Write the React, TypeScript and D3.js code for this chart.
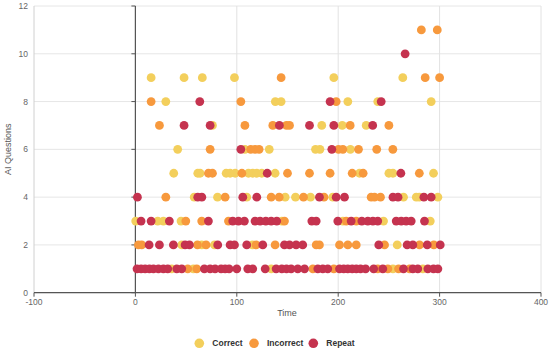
import React from "react";
import * as d3 from "d3";

const seriesNames = ["Correct", "Incorrect", "Repeat"];
const seriesColors = ["#F3CF5C", "#F7993D", "#C5334F"];

const xTicks = [-100, 0, 100, 200, 300, 400];
const yTicks = [0, 2, 4, 6, 8, 10, 12];

const correctData: [number, number][] = [
  [15.5, 9], [48, 9], [66, 9], [97.7, 9], [195.7, 9], [263.7, 9],
  [30, 8], [138, 8], [143.7, 8], [209.5, 8], [239, 8], [291.7, 8],
  [76, 7], [183.8, 7], [204, 7], [227.6, 7],
  [41.7, 6], [108, 6], [132, 6], [177.6, 6], [182, 6], [212, 6],
  [37.8, 5], [61.5, 5], [63.8, 5], [89.5, 5], [93.4, 5], [98.4, 5], [111.5, 5], [115.7, 5], [119.7, 5], [124.6, 5], [137.8, 5], [221, 5], [250, 5], [254, 5], [294, 5],
  [58, 4], [81, 4], [109.8, 4], [147.7, 4], [157.9, 4], [172.7, 4], [194.7, 4], [264.4, 4], [277, 4], [280, 4], [298.3, 4],
  [0.3, 3], [22, 3], [27.6, 3], [45, 3], [144.4, 3], [204.6, 3], [244.7, 3], [290.8, 3],
  [45.7, 2], [65.4, 2], [78, 2], [115.4, 2], [258.2, 2],
  [35.8, 1], [57.2, 1], [133.9, 1], [254, 1], [283.5, 1],
];

const incorrectData: [number, number][] = [
  [282, 11], [297.7, 11],
  [143.7, 9], [285.8, 9], [300, 9],
  [15.5, 8], [104, 8], [198, 8],
  [23.7, 7], [108, 7], [135.5, 7], [149, 7], [152, 7], [211.8, 7], [250, 7],
  [73.7, 6], [113.7, 6], [118, 6], [122, 6], [200.3, 6], [204.6, 6], [220, 6], [238, 6], [253.9, 6],
  [72, 5], [76, 5], [105, 5], [150, 5], [171.7, 5], [192, 5], [213.8, 5], [224.6, 5], [280, 5],
  [30, 4], [88.5, 4], [133.9, 4], [141.8, 4], [165.8, 4], [186, 4], [232.5, 4], [235.8, 4], [241.7, 4],
  [49.7, 3], [65.4, 3], [91.8, 3], [147, 3], [207.9, 3], [217.8, 3],
  [3, 2], [6.2, 2], [61.2, 2], [69.7, 2], [119, 2], [137.8, 2], [178.3, 2], [181.5, 2], [201.3, 2], [209.5, 2], [217.8, 2], [245.7, 2], [280.2, 2], [294.3, 2],
  [51.6, 1], [60.5, 1], [175, 1], [195.7, 1], [239, 1], [249, 1], [259.5, 1], [270.4, 1],
];

const repeatData: [number, number][] = [
  [266, 10],
  [63.5, 8], [192, 8], [242.4, 8],
  [48, 7], [73.7, 7], [142, 7], [171.7, 7], [195.7, 7], [234, 7],
  [104, 6], [193.7, 6],
  [130, 5], [261.8, 5],
  [2, 4], [61.5, 4], [65.5, 4], [105.9, 4], [119.7, 4], [181.5, 4], [198, 4], [206.2, 4], [254, 4], [259, 4], [284.5, 4], [291.7, 4],
  [5.6, 3], [15.5, 3], [33.5, 3], [72, 3], [96, 3], [101.6, 3], [107.5, 3], [118, 3], [123, 3], [128.6, 3], [133.9, 3], [139.4, 3], [174, 3], [178.3, 3], [199.6, 3], [212.8, 3], [223.3, 3], [229.2, 3], [234.2, 3], [239, 3], [257.2, 3], [262.2, 3], [267, 3], [272, 3], [285.1, 3],
  [13.5, 2], [23.7, 2], [37.5, 2], [49, 2], [53.3, 2], [81.2, 2], [93.4, 2], [97.7, 2], [109.8, 2], [125.6, 2], [147, 2], [152, 2], [158.5, 2], [165, 2], [240, 2], [268, 2], [273.6, 2], [287.8, 2], [300.6, 2],
  [1.6, 1], [5.6, 1], [9.6, 1], [13.8, 1], [17.8, 1], [22.7, 1], [27.6, 1], [31.9, 1], [40.8, 1], [45.7, 1], [68, 1], [73.7, 1], [78.6, 1], [84.5, 1], [88.5, 1], [92.4, 1], [100, 1], [110.8, 1], [115.7, 1], [128, 1], [138.8, 1], [144.4, 1], [149, 1], [153.6, 1], [160.1, 1], [166.8, 1], [179.9, 1], [184.8, 1], [189.7, 1], [201.3, 1], [205.5, 1], [209.5, 1], [213.8, 1], [217.8, 1], [222, 1], [227, 1], [235, 1], [244, 1], [264.4, 1], [273.6, 1], [278.5, 1], [288.4, 1], [294, 1], [298.3, 1],
];

const allSeries = [correctData, incorrectData, repeatData];

const W = 550;
const H = 353;
const FONT = "'Liberation Sans', Arial, sans-serif";

export default function App() {
  const x = d3.scaleLinear().domain([-100, 400]).range([34, 541]);
  const y = d3.scaleLinear().domain([0, 12]).range([292.7, 6]);
  const x0 = x(0);

  const legendX = [199.3, 254, 313.3];

  return (
    <svg
      width={W}
      height={H}
      style={{ position: "absolute", left: 0, top: 0, background: "#fff" }}
      fontFamily={FONT}
    >
      {/* horizontal grid */}
      {yTicks.map((t) => (
        <line key={"hg" + t} x1={x(-100)} x2={x(400)} y1={y(t)} y2={y(t)} stroke="#e6e6e6" strokeWidth={1} />
      ))}
      {/* vertical grid */}
      {xTicks.map((t) => (
        <line key={"vg" + t} x1={x(t)} x2={x(t)} y1={y(12)} y2={y(0)} stroke={t === -100 ? "#d0d0d0" : "#e2e2e2"} strokeWidth={1} />
      ))}
      {/* y axis at x=0 */}
      <line x1={x0} x2={x0} y1={y(12)} y2={y(0)} stroke="#555" strokeWidth={1.2} />
      {yTicks.map((t) => (
        <line key={"yt" + t} x1={x0 - 4} x2={x0} y1={y(t)} y2={y(t)} stroke="#555" strokeWidth={1} />
      ))}
      {/* x axis */}
      <line x1={x(-100)} x2={x(400)} y1={y(0)} y2={y(0)} stroke="#555" strokeWidth={1.2} />
      {xTicks.map((t) => (
        <line key={"xt" + t} x1={x(t)} x2={x(t)} y1={y(0)} y2={y(0) + 4} stroke="#555" strokeWidth={1} />
      ))}
      {/* y tick labels */}
      {yTicks.map((t) => (
        <text key={"yl" + t} x={28} y={y(t)} dy="0.35em" textAnchor="end" fontSize={8.5} fill="#666">
          {t}
        </text>
      ))}
      {/* x tick labels */}
      {xTicks.map((t) => (
        <text key={"xl" + t} x={x(t)} y={305} textAnchor="middle" fontSize={8.5} fill="#666">
          {t}
        </text>
      ))}
      {/* axis titles */}
      <text x={287} y={316} textAnchor="middle" fontSize={9} fill="#555">
        Time
      </text>
      <text transform={`translate(11,${y(6)}) rotate(-90)`} textAnchor="middle" fontSize={9} fill="#555">
        AI Questions
      </text>
      {/* points */}
      {allSeries.map((data, si) => (
        <g key={"s" + si}>
          {data.map((d, i) => (
            <circle key={i} cx={x(d[0])} cy={y(d[1])} r={4.4} fill={seriesColors[si]} />
          ))}
        </g>
      ))}
      {/* legend */}
      {seriesNames.map((n, i) => (
        <g key={"lg" + n}>
          <circle cx={legendX[i]} cy={343.3} r={4.8} fill={seriesColors[i]} />
          <text x={legendX[i] + 13} y={343.3} dy="0.35em" fontSize={8.5} fontWeight="bold" fill="#333">
            {n}
          </text>
        </g>
      ))}
    </svg>
  );
}
